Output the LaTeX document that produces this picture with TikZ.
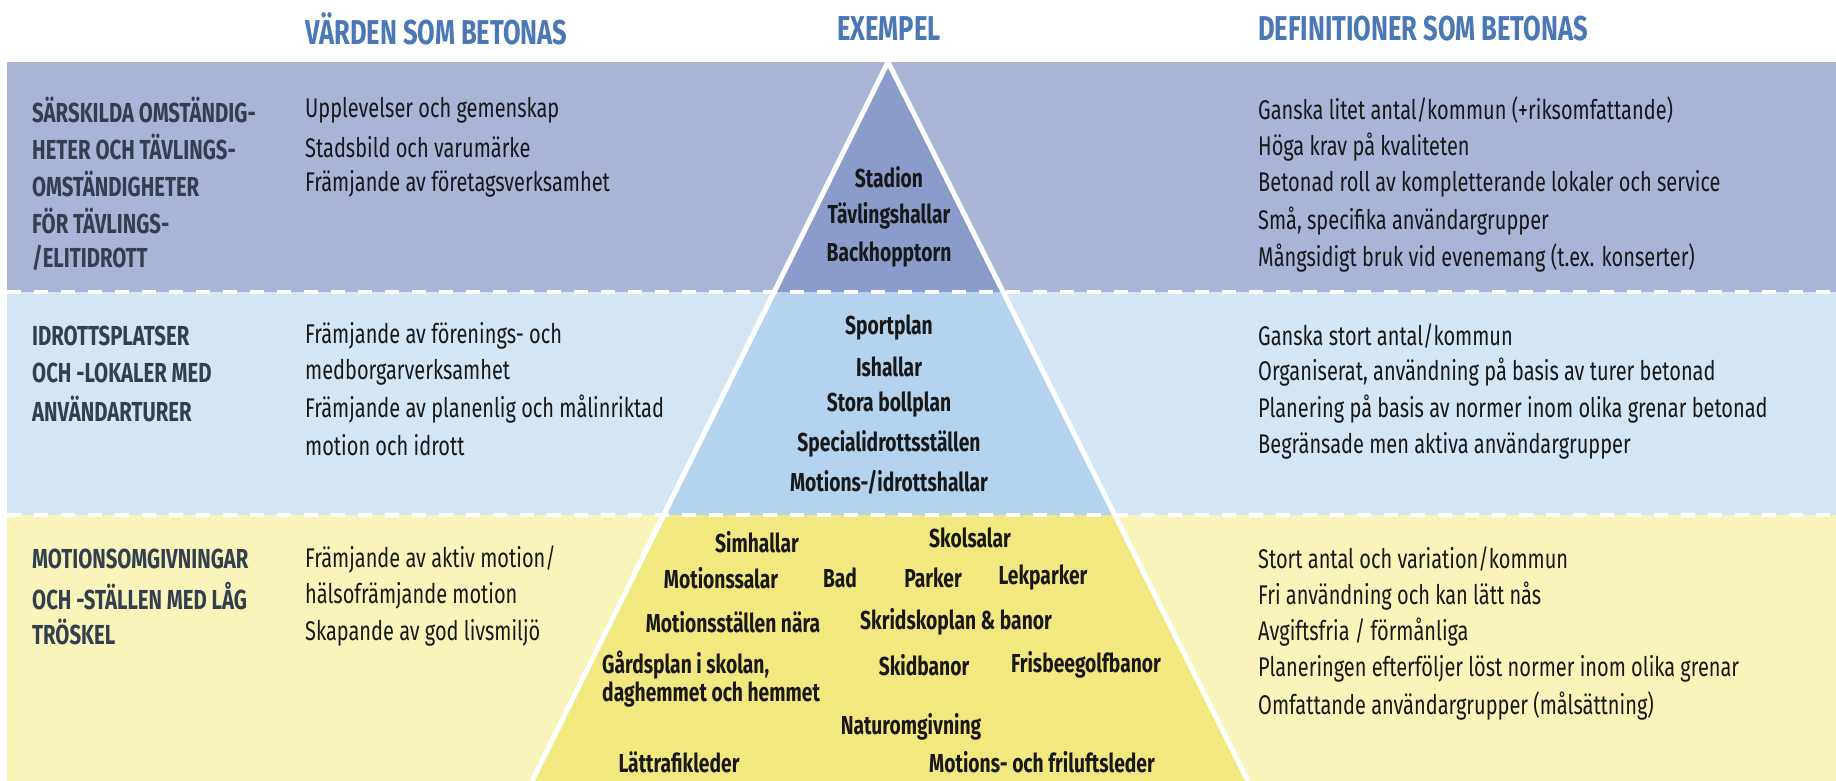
\documentclass[tikz,border=0pt]{standalone}
\usepackage{fontspec}
\setmainfont{Fira Sans}[FakeStretch=0.74]
\usetikzlibrary{calc}

\definecolor{bandtop}{HTML}{AAB4D7}
\definecolor{bandmid}{HTML}{D4E5F4}
\definecolor{bandlow}{HTML}{F9F5BA}
\definecolor{pyrtop}{HTML}{8A9BCC}
\definecolor{pyrmid}{HTML}{B4D3EE}
\definecolor{pyrlow}{HTML}{F1E97F}
\definecolor{headblue}{HTML}{4A77B5}
\definecolor{levelgray}{HTML}{333F4F}
\definecolor{inkblack}{HTML}{181818}

\tikzset{
	head/.style={font=\bfseries\fontsize{34.5}{38}\selectfont, text=headblue, inner sep=0},
	level/.style={anchor=west, font=\bfseries\fontsize{27.5}{30}\selectfont, text=levelgray, inner sep=0},
	body/.style={anchor=west, font=\fontsize{27}{30}\selectfont, text=inkblack, inner sep=0},
	item/.style={font=\bfseries\fontsize{26}{28}\selectfont, text=inkblack, inner sep=0}
}

\begin{document}
\begin{tikzpicture}[x=1pt,y=-1pt]
			%%%%% START %%%%%
			\useasboundingbox (0,0) rectangle (1836,781);
			\fill[white] (0,0) rectangle (1836,781);
			
			\fill[bandtop] (7,62) rectangle (1836,292);
			\fill[bandmid] (7,292) rectangle (1836,515);
			\fill[bandlow] (7,515) rectangle (1836,781);
			
			\begin{scope}
				\clip (888,62) -- (1248,781) -- (532,781) -- cycle;
				\fill[pyrtop] (500,50) rectangle (1300,292);
				\fill[pyrmid] (500,292) rectangle (1300,515);
				\fill[pyrlow] (500,515) rectangle (1300,781);
			\end{scope}
			\draw[white, line width=5pt] (532,781) -- (888,62) -- (1248,781);
			
			\draw[white, line width=4pt, dash pattern=on 14pt off 13pt] (7,292) -- (1836,292);
			\draw[white, line width=4pt, dash pattern=on 14pt off 13pt] (7,515) -- (1836,515);
			
			\node[head, anchor=west] (hvalues) at (305,29) {VÄRDEN SOM BETONAS};
			\node[head] (hexample) at (889,29) {EXEMPEL};
			\node[head, anchor=west] (hdefs) at (1258,29) {DEFINITIONER SOM BETONAS};
			
			% top band
			\foreach \t [count=\i from 0] in {SÄRSKILDA OMSTÄNDIG-, HETER OCH TÄVLINGS-, OMSTÄNDIGHETER, FÖR TÄVLINGS-, /ELITIDROTT}
				\node[level] (lvtop\i) at (32,{110+37*\i}) {\t};
			\foreach \t [count=\i from 0] in {Upplevelser och gemenskap, Stadsbild och varumärke, Främjande av företagsverksamhet}
				\node[body] (valtop\i) at (305,{110+37*\i}) {\t};
			\foreach \t [count=\i from 0] in {Stadion, Tävlingshallar, Backhopptorn}
				\node[item] (extop\i) at (889,{177+39*\i}) {\t};
			\foreach \t [count=\i from 0] in {Ganska litet antal/kommun (+riksomfattande), Höga krav på kvaliteten, Betonad roll av kompletterande lokaler och service, {Små, specifika användargrupper}, Mångsidigt bruk vid evenemang (t.ex. konserter)}
				\node[body] (deftop\i) at (1258,{110+37*\i}) {\t};
			
			% middle band
			\foreach \t [count=\i from 0] in {IDROTTSPLATSER, OCH -LOKALER MED, ANVÄNDARTURER}
				\node[level] (lvmid\i) at (32,{336+36.5*\i}) {\t};
			\foreach \t [count=\i from 0] in {Främjande av förenings- och, medborgarverksamhet, Främjande av planenlig och målinriktad, motion och idrott}
				\node[body] (valmid\i) at (305,{336+36.5*\i}) {\t};
			\foreach \t [count=\i from 0] in {Sportplan, Ishallar, Stora bollplan, Specialidrottsställen, Motions-/idrottshallar}
				\node[item] (exmid\i) at (889,{328+38.5*\i}) {\t};
			\foreach \t [count=\i from 0] in {Ganska stort antal/kommun, {Organiserat, användning på basis av turer betonad}, Planering på basis av normer inom olika grenar betonad, Begränsade men aktiva användargrupper}
				\node[body] (defmid\i) at (1258,{336+36.5*\i}) {\t};
			
			% bottom band
			\foreach \t [count=\i from 0] in {MOTIONSOMGIVNINGAR, OCH -STÄLLEN MED LÅG, TRÖSKEL}
				\node[level] (lvlow\i) at (32,{559+36.7*\i}) {\t};
			\foreach \t [count=\i from 0] in {Främjande av aktiv motion/, hälsofrämjande motion, Skapande av god livsmiljö}
				\node[body] (vallow\i) at (305,{559+36.7*\i}) {\t};
			\foreach \t [count=\i from 0] in {Stort antal och variation/kommun, Fri användning och kan lätt nås, Avgiftsfria / förmånliga, Planeringen efterföljer löst normer inom olika grenar, Omfattande användargrupper (målsättning)}
				\node[body] (deflow\i) at (1258,{559+36.7*\i}) {\t};
			
			\node[item] (simhallar) at (757,542) {Simhallar};
			\node[item] (skolsalar) at (970,538) {Skolsalar};
			\node[item] (motsalar) at (721,578) {Motionssalar};
			\node[item] (bad) at (840,578) {Bad};
			\node[item] (parker) at (933,578) {Parker};
			\node[item] (lekparker) at (1043,578) {Lekparker};
			\node[item] (motnara) at (733,622) {Motionsställen nära};
			\node[item] (skridsko) at (956,622) {Skridskoplan \& banor};
			\node[item, anchor=west, align=left] (gardsplan) at (602,679) {Gårdsplan i skolan,\\daghemmet och hemmet};
			\node[item] (skidbanor) at (924,665) {Skidbanor};
			\node[item] (frisbee) at (1086,665) {Frisbeegolfbanor};
			\node[item] (natur) at (911,727) {Naturomgivning};
			\node[item] (lattrafik) at (679,762) {Lättrafikleder};
			\node[item] (friluft) at (1042,762) {Motions- och friluftsleder};
			
			%%%%% END %%%%%
\end{tikzpicture}
\end{document}
